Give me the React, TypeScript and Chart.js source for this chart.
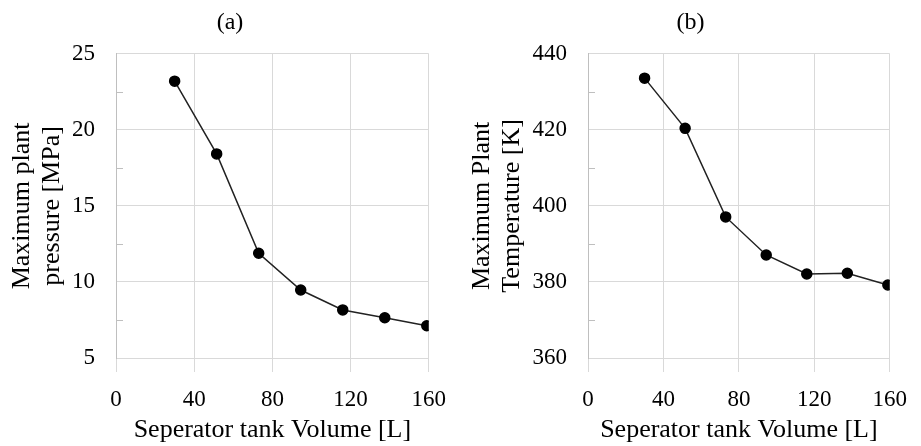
import React, { useEffect, useRef } from "react";
import { Chart, registerables } from "chart.js";

Chart.register(...registerables);

const volumes = [30, 51.5, 73, 94.5, 116, 137.5, 159];
const pressures = [23.2, 18.42, 11.89, 9.47, 8.16, 7.65, 7.12];
const temperatures = [433.6, 420.4, 397.1, 387.1, 382.1, 382.3, 379.2];

const xTicks = [0, 40, 80, 120, 160];
const pressureTicks = [5, 10, 15, 20, 25];
const pressureMinor = [7.5, 12.5, 17.5, 22.5];
const tempTicks = [360, 380, 400, 420, 440];
const tempMinor = [370, 390, 410, 430];

const FONT = "'Liberation Serif', 'Times New Roman', serif";

type PanelProps = {
  width: number;
  title: string;
  yTitle: string[];
  yValues: number[];
  yTicks: number[];
  yMinor: number[];
  axisWidth: number;
  rightPad: number;
};

function Panel(props: PanelProps) {
  const ref = useRef<HTMLCanvasElement | null>(null);
  useEffect(() => {
    if (!ref.current) return;
    const minorPlugin = {
      id: "minorTicks",
      afterDraw(chart: any) {
        const y = chart.scales.y;
        const ctx = chart.ctx;
        ctx.save();
        ctx.strokeStyle = "#bfbfbf";
        ctx.lineWidth = 1;
        for (const v of props.yMinor) {
          const py = Math.round(y.getPixelForValue(v)) + 0.5;
          ctx.beginPath();
          ctx.moveTo(chart.chartArea.left, py);
          ctx.lineTo(chart.chartArea.left + 7, py);
          ctx.stroke();
        }
        ctx.restore();
      },
    };
    const chart = new Chart(ref.current, {
      type: "line",
      data: {
        datasets: [
          {
            data: volumes.map((v, i) => ({ x: v, y: props.yValues[i] })),
            borderColor: "#222222",
            borderWidth: 1.5,
            pointBackgroundColor: "#000000",
            pointBorderColor: "#000000",
            pointRadius: 5,
            tension: 0,
            yAxisID: "y",
          },
        ],
      },
      options: {
        responsive: false,
        animation: false,
        layout: { padding: 0 },
        plugins: {
          legend: { display: false },
          tooltip: { enabled: false },
          title: {
            display: true,
            text: props.title,
            color: "#000",
            font: { family: FONT, size: 24, weight: "normal" },
            padding: { top: 8, bottom: 17 },
          },
        },
        scales: {
          x: {
            type: "linear",
            position: "bottom",
            min: xTicks[0],
            max: xTicks[xTicks.length - 1],
            afterBuildTicks: (s: any) => {
              s.ticks = xTicks.map((v) => ({ value: v }));
            },
            afterFit: (s: any) => {
              s.height = 88;
            },
            ticks: {
              color: "#000",
              font: { family: FONT, size: 23 },
              padding: 14,
              maxRotation: 0,
            },
            grid: { color: "#d9d9d9", tickLength: 14, drawTicks: true, tickColor: "#d9d9d9" },
            border: { color: "#d9d9d9" },
            title: {
              display: true,
              text: "Seperator tank Volume [L]",
              color: "#000",
              font: { family: FONT, size: 26 },
              padding: { top: 0, bottom: 0 },
            },
          },
          y: {
            type: "linear",
            position: "left",
            min: props.yTicks[0],
            max: props.yTicks[props.yTicks.length - 1],
            afterBuildTicks: (s: any) => {
              s.ticks = props.yTicks.map((v) => ({ value: v }));
            },
            afterFit: (s: any) => {
              s.width = props.axisWidth;
            },
            ticks: {
              color: "#000",
              font: { family: FONT, size: 23 },
              padding: 21,
            },
            grid: { color: "#d9d9d9", drawTicks: false },
            border: { color: "#bfbfbf" },
            title: {
              display: true,
              text: props.yTitle,
              color: "#000",
              font: { family: FONT, size: 26, lineHeight: 1.15 },
              padding: { top: 7, bottom: 0 },
            },
          },
          yPad: {
            type: "linear",
            position: "right",
            display: true,
            min: 0,
            max: 1,
            afterFit: (s: any) => {
              s.width = props.rightPad;
            },
            ticks: { display: false },
            grid: { display: false, drawOnChartArea: false, drawTicks: false },
            border: { display: false },
          },
        },
      },
      plugins: [minorPlugin],
    } as any);
    return () => chart.destroy();
  }, []);
  return <canvas ref={ref} width={props.width} height={446} style={{ display: "block", width: props.width, height: 446 }} />;
}

export default function App() {
  return (
    <div style={{ position: "fixed", left: 0, top: 0, width: 921, height: 446, display: "flex", background: "#fff" }}>
      <Panel
        width={460}
        title="(a)"
        yTitle={["Maximum plant", "pressure [MPa]"]}
        yValues={pressures}
        yTicks={pressureTicks}
        yMinor={pressureMinor}
        axisWidth={116}
        rightPad={29}
      />
      <Panel
        width={461}
        title="(b)"
        yTitle={["Maximum Plant", "Temperature [K]"]}
        yValues={temperatures}
        yTicks={tempTicks}
        yMinor={tempMinor}
        axisWidth={128}
        rightPad={19}
      />
    </div>
  );
}
